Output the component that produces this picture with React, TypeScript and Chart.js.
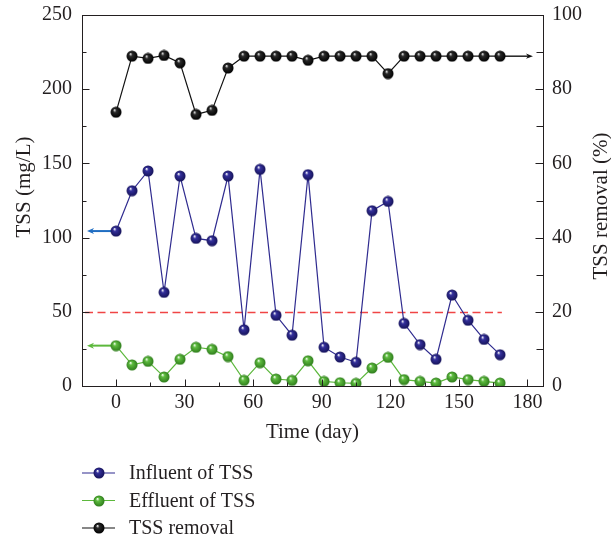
import React, { useEffect, useRef } from "react";
import { Chart, registerables } from "chart.js";

Chart.register(...registerables);

// ---------- data ----------
const days = [0, 7, 14, 21, 28, 35, 42, 49, 56, 63, 70, 77, 84, 91, 98, 105, 112, 119, 126, 133, 140, 147, 154, 161, 168];
const influentTSS = [104.4, 131.6, 144.9, 63.1, 141.5, 99.5, 97.9, 141.5, 37.9, 146.0, 47.6, 34.2, 142.4, 26.1, 19.5, 16.0, 118.1, 124.4, 42.2, 27.9, 18.0, 61.3, 44.3, 31.4, 21.1];
const effluentTSS = [27.2, 14.2, 16.6, 6.1, 18.0, 26.1, 24.7, 19.8, 3.8, 15.7, 4.7, 3.8, 17.0, 3.1, 2.2, 1.8, 12.1, 19.3, 4.3, 3.1, 2.0, 6.1, 4.3, 3.1, 2.0];
const tssRemoval = [73.8, 88.9, 88.3, 89.1, 87.1, 73.2, 74.3, 85.7, 88.9, 88.9, 88.9, 88.9, 87.8, 88.9, 88.9, 88.9, 88.9, 84.2, 88.9, 88.9, 88.9, 88.9, 88.9, 88.9, 88.9];
const seriesLabels = ["Influent of TSS", "Effluent of TSS", "TSS removal"];
const limitValue = 50;
const limitRange = [-14.9, 168.8];

const xTicks = [0, 30, 60, 90, 120, 150, 180];
const xMinor = [15, 45, 75, 105, 135, 165];
const yTicks = [0, 50, 100, 150, 200, 250];
const yMinor = [25, 75, 125, 175, 225];
const y1Ticks = [0, 20, 40, 60, 80, 100];
const y1Minor = [10, 30, 50, 70, 90];

const xTitle = "Time (day)";
const yTitle = "TSS (mg/L)";
const y1Title = "TSS removal (%)";

const FONT = '"Liberation Serif", "Times New Roman", serif';
const TEXT = "#231f20";

function makeSphere(base: string, dark: string, hl: string, size = 12) {
  const c = document.createElement("canvas");
  c.width = size;
  c.height = size;
  const ctx = c.getContext("2d")!;
  const r = size / 2 - 0.5;
  const cx = size / 2;
  const cy = size / 2;
  const g = ctx.createRadialGradient(cx - r * 0.3, cy - r * 0.4, r * 0.05, cx, cy, r);
  g.addColorStop(0, hl);
  g.addColorStop(0.28, base);
  g.addColorStop(1, dark);
  ctx.fillStyle = g;
  ctx.beginPath();
  ctx.arc(cx, cy, r, 0, Math.PI * 2);
  ctx.fill();
  return c;
}

export default function App() {
  const ref = useRef<HTMLCanvasElement | null>(null);

  useEffect(() => {
    const canvas = ref.current;
    if (!canvas) return;

    const colors = ["#2f2b8f", "#5cb83c", "#111111"];
    const spheres = [
      makeSphere("#34309c", "#16135a", "#ffffff"),
      makeSphere("#5fbd40", "#2f7d1c", "#f4fff0"),
      makeSphere("#2a2a2a", "#000000", "#e8e8e8"),
    ];

    const line = (ctx: CanvasRenderingContext2D, x1: number, y1: number, x2: number, y2: number) => {
      ctx.beginPath();
      ctx.moveTo(x1, y1);
      ctx.lineTo(x2, y2);
      ctx.stroke();
    };

    const arrow = (ctx: CanvasRenderingContext2D, x1: number, y: number, x2: number, color: string, lw: number, hl: number, hw: number) => {
      ctx.save();
      ctx.strokeStyle = color;
      ctx.fillStyle = color;
      ctx.lineWidth = lw;
      const dir = Math.sign(x2 - x1);
      line(ctx, x1, y, x2 - dir * hl * 0.6, y);
      ctx.beginPath();
      ctx.moveTo(x2, y);
      ctx.lineTo(x2 - dir * hl, y - hw);
      ctx.lineTo(x2 - dir * hl * 0.7, y);
      ctx.lineTo(x2 - dir * hl, y + hw);
      ctx.closePath();
      ctx.fill();
      ctx.restore();
    };

    const underlay = {
      id: "underlay",
      beforeDatasetsDraw(chart: any) {
        const { ctx, scales } = chart;
        const { x, y, y1 } = scales;
        ctx.save();
        // limit line
        ctx.strokeStyle = "#f04545";
        ctx.lineWidth = 1.5;
        ctx.setLineDash([8, 4.5]);
        const ly = Math.round(y.getPixelForValue(limitValue)) + 0.5;
        line(ctx, x.getPixelForValue(limitRange[0]) + 3, ly, x.getPixelForValue(limitRange[1]), ly);
        ctx.setLineDash([]);
        // arrows pointing to the axes
        const x0 = x.getPixelForValue(days[0]);
        arrow(ctx, x0, y.getPixelForValue(influentTSS[0]), x.getPixelForValue(-12.7), "#1f6dc2", 2, 7, 3);
        arrow(ctx, x0, y.getPixelForValue(effluentTSS[0]), x.getPixelForValue(-12.7), "#5cb83c", 2, 7, 3);
        const last = days.length - 1;
        arrow(ctx, x.getPixelForValue(days[last]), y1.getPixelForValue(tssRemoval[last]), x.getPixelForValue(182.4), "#111111", 1.4, 7, 2.6);
        ctx.restore();
      },
    };

    const frame = {
      id: "frame",
      afterDraw(chart: any) {
        const { ctx, chartArea: a, scales } = chart;
        const { x, y, y1 } = scales;
        ctx.save();
        ctx.strokeStyle = TEXT;
        ctx.lineWidth = 1;
        const L = Math.round(a.left) + 0.5;
        const R = Math.round(a.right) + 0.5;
        const T = Math.round(a.top) + 0.5;
        const B = Math.round(a.bottom) + 0.5;
        ctx.strokeRect(L, T, R - L, B - T);
        xTicks.forEach((v) => { const px = Math.round(x.getPixelForValue(v)) + 0.5; line(ctx, px, B, px, B - 7); });
        xMinor.forEach((v) => { const px = Math.round(x.getPixelForValue(v)) + 0.5; line(ctx, px, B, px, B - 4); });
        yTicks.forEach((v) => { const py = Math.round(y.getPixelForValue(v)) + 0.5; line(ctx, L, py, L + 7, py); });
        yMinor.forEach((v) => { const py = Math.round(y.getPixelForValue(v)) + 0.5; line(ctx, L, py, L + 4, py); });
        y1Ticks.forEach((v) => { const py = Math.round(y1.getPixelForValue(v)) + 0.5; line(ctx, R, py, R - 8, py); });
        y1Minor.forEach((v) => { const py = Math.round(y1.getPixelForValue(v)) + 0.5; line(ctx, R, py, R - 7, py); });

        // axis titles
        ctx.fillStyle = TEXT;
        ctx.font = `21px ${FONT}`;
        ctx.textAlign = "center";
        ctx.textBaseline = "middle";
        ctx.fillText(xTitle, (a.left + a.right) / 2, 432);
        ctx.save();
        ctx.translate(24, 187);
        ctx.rotate(-Math.PI / 2);
        ctx.fillText(yTitle, 0, 0);
        ctx.restore();
        ctx.save();
        ctx.translate(601, 206);
        ctx.rotate(-Math.PI / 2);
        ctx.fillText(y1Title, 0, 0);
        ctx.restore();

        // legend
        ctx.font = `20px ${FONT}`;
        ctx.textAlign = "left";
        const rows = [473, 500.5, 528];
        seriesLabels.forEach((lab, i) => {
          ctx.strokeStyle = colors[i];
          ctx.lineWidth = 1.2;
          line(ctx, 82, rows[i], 115, rows[i]);
          ctx.drawImage(spheres[i], 99 - 6, Math.round(rows[i]) - 6);
          ctx.fillStyle = TEXT;
          ctx.fillText(lab, 129, rows[i] + 1);
        });
        ctx.restore();
      },
    };

    const tickFont = { family: FONT, size: 20 };
    const fitV = (w: number) => (s: any) => { s.width = w; s.paddingTop = 0; s.paddingBottom = 0; };

    const chart = new Chart(canvas, {
      type: "line",
      data: {
        datasets: [
          {
            label: seriesLabels[0],
            data: days.map((d, i) => ({ x: d, y: influentTSS[i] })),
            yAxisID: "y",
            borderColor: colors[0],
            borderWidth: 1.2,
            pointStyle: spheres[0] as any,
            tension: 0,
          },
          {
            label: seriesLabels[1],
            data: days.map((d, i) => ({ x: d, y: effluentTSS[i] })),
            yAxisID: "y",
            borderColor: colors[1],
            borderWidth: 1.2,
            pointStyle: spheres[1] as any,
            tension: 0,
          },
          {
            label: seriesLabels[2],
            data: days.map((d, i) => ({ x: d, y: tssRemoval[i] })),
            yAxisID: "y1",
            borderColor: colors[2],
            borderWidth: 1.2,
            pointStyle: spheres[2] as any,
            tension: 0,
          },
        ],
      },
      options: {
        responsive: false,
        animation: false,
        events: [],
        layout: { padding: { top: 15, bottom: 93, left: 0, right: 0 } },
        plugins: { legend: { display: false }, tooltip: { enabled: false } },
        scales: {
          x: {
            type: "linear",
            min: -14.9,
            max: 186.8,
            grid: { display: false, drawTicks: false },
            border: { display: false },
            afterBuildTicks: (s: any) => { s.ticks = xTicks.map((v) => ({ value: v })); },
            afterFit: (s: any) => { s.height = 60; s.paddingLeft = 0; s.paddingRight = 0; },
            ticks: { font: tickFont, color: TEXT, padding: 5, maxRotation: 0, autoSkip: false },
          },
          y: {
            position: "left",
            min: 0,
            max: 250,
            grid: { display: false, drawTicks: false },
            border: { display: false },
            afterBuildTicks: (s: any) => { s.ticks = yTicks.map((v) => ({ value: v })); },
            afterFit: fitV(82),
            ticks: { font: tickFont, color: TEXT, padding: 10 },
          },
          y1: {
            position: "right",
            min: 0,
            max: 100,
            grid: { display: false, drawTicks: false },
            border: { display: false },
            afterBuildTicks: (s: any) => { s.ticks = y1Ticks.map((v) => ({ value: v })); },
            afterFit: fitV(68),
            ticks: { font: tickFont, color: TEXT, padding: 9 },
          },
        },
      },
      plugins: [underlay, frame],
    } as any);

    return () => chart.destroy();
  }, []);

  return (
    <div style={{ position: "fixed", left: 0, top: 0, width: 611, height: 539, background: "#fff" }}>
      <canvas ref={ref} width={611} height={539} />
    </div>
  );
}
